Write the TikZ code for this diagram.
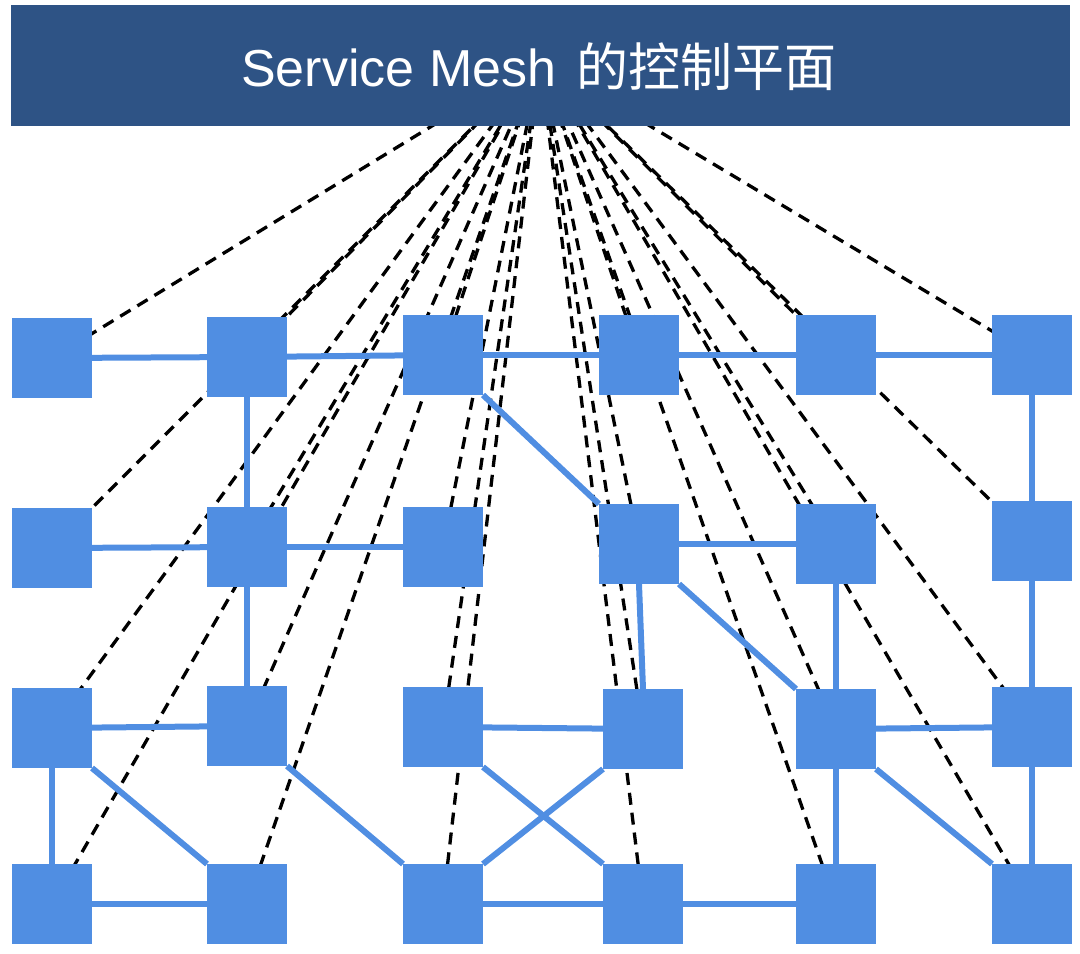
\documentclass[tikz,border=0pt]{standalone}
\usepackage{fontspec}
\setmainfont{Liberation Sans}
\newfontfamily\cjk{Noto Sans CJK SC}
\usetikzlibrary{backgrounds}
\definecolor{bannerblue}{RGB}{46,83,133}
\definecolor{sqblue}{RGB}{80,142,226}
\begin{document}
\begin{tikzpicture}[x=1pt,y=-1pt,
  box/.style={fill=sqblue, draw=none, minimum width=80pt, minimum height=80pt, inner sep=0pt, outer sep=0pt, anchor=north west},
  link/.style={draw=sqblue, line width=6pt},
  ctrl/.style={draw=black, line width=3.3pt, dash pattern=on 12pt off 8pt},
  bannerbox/.style={fill=bannerblue, draw=none, minimum width=1059pt, minimum height=121pt, inner sep=0pt, anchor=north west}]
\useasboundingbox (0,0) rectangle (1080,954);
% squares
\node[box] (r1c1) at (12,318) {};
\node[box] (r1c2) at (207,317) {};
\node[box] (r1c3) at (403,315) {};
\node[box] (r1c4) at (599,315) {};
\node[box] (r1c5) at (796,315) {};
\node[box] (r1c6) at (992,315) {};
\node[box] (r2c1) at (12,508) {};
\node[box] (r2c2) at (207,507) {};
\node[box] (r2c3) at (403,507) {};
\node[box] (r2c4) at (599,504) {};
\node[box] (r2c5) at (796,504) {};
\node[box] (r2c6) at (992,501) {};
\node[box] (r3c1) at (12,688) {};
\node[box] (r3c2) at (207,686) {};
\node[box] (r3c3) at (403,687) {};
\node[box] (r3c4) at (603,689) {};
\node[box] (r3c5) at (796,689) {};
\node[box] (r3c6) at (992,687) {};
\node[box] (r4c1) at (12,864) {};
\node[box] (r4c2) at (207,864) {};
\node[box] (r4c3) at (403,864) {};
\node[box] (r4c4) at (603,864) {};
\node[box] (r4c5) at (796,864) {};
\node[box] (r4c6) at (992,864) {};
\coordinate (F) at (540,60);
% banner on top of the dashed lines
\node[bannerbox] (banner) at (11,5) {};
\node[text=white, anchor=base, inner sep=0pt] (title) at (539,86)
  {\fontsize{52}{60}\selectfont Service Mesh\hspace{6pt} {\cjk\fontsize{52}{62}\selectfont 的控制平面}};
\begin{pgfonlayer}{background}
  \foreach \n in {r1c1,r1c2,r1c3,r1c4,r1c5,r1c6,r2c1,r2c2,r2c3,r2c4,r2c5,r2c6,
                  r3c1,r3c2,r3c3,r3c4,r3c5,r3c6,r4c1,r4c2,r4c3,r4c4,r4c5,r4c6}
    \draw[ctrl] (\n.center) -- (F);
  % row 1
  \draw[link] (r1c1) -- (r1c2);
  \draw[link] (r1c2) -- (r1c3);
  \draw[link] (r1c3) -- (r1c4);
  \draw[link] (r1c4) -- (r1c5);
  \draw[link] (r1c5) -- (r1c6);
  \draw[link] (r1c2.center) -- (r2c2.center);
  \draw[link] (r1c6.center) -- (r2c6.center);
  \draw[link] (r1c3.south east) -- (r2c4.north west);
  % row 2
  \draw[link] (r2c1) -- (r2c2);
  \draw[link] (r2c2) -- (r2c3);
  \draw[link] (r2c4) -- (r2c5);
  \draw[link] (r2c2.center) -- (r3c2.center);
  \draw[link] (r2c4.south) -- (r3c4.north);
  \draw[link] (r2c4.south east) -- (r3c5.north west);
  \draw[link] (r2c5.center) -- (r3c5.center);
  \draw[link] (r2c6.center) -- (r3c6.center);
  % row 3
  \draw[link] (r3c1) -- (r3c2);
  \draw[link] (r3c3) -- (r3c4);
  \draw[link] (r3c5) -- (r3c6);
  \draw[link] (r3c1.center) -- (r4c1.center);
  \draw[link] (r3c1.south east) -- (r4c2.north west);
  \draw[link] (r3c2.south east) -- (r4c3.north west);
  \draw[link] (r3c3.south east) -- (r4c4.north west);
  \draw[link] (r3c4.south west) -- (r4c3.north east);
  \draw[link] (r3c5.center) -- (r4c5.center);
  \draw[link] (r3c5.south east) -- (r4c6.north west);
  \draw[link] (r3c6.center) -- (r4c6.center);
  % row 4
  \draw[link] (r4c1) -- (r4c2);
  \draw[link] (r4c3) -- (r4c4);
  \draw[link] (r4c4) -- (r4c5);
\end{pgfonlayer}
\end{tikzpicture}
\end{document}
